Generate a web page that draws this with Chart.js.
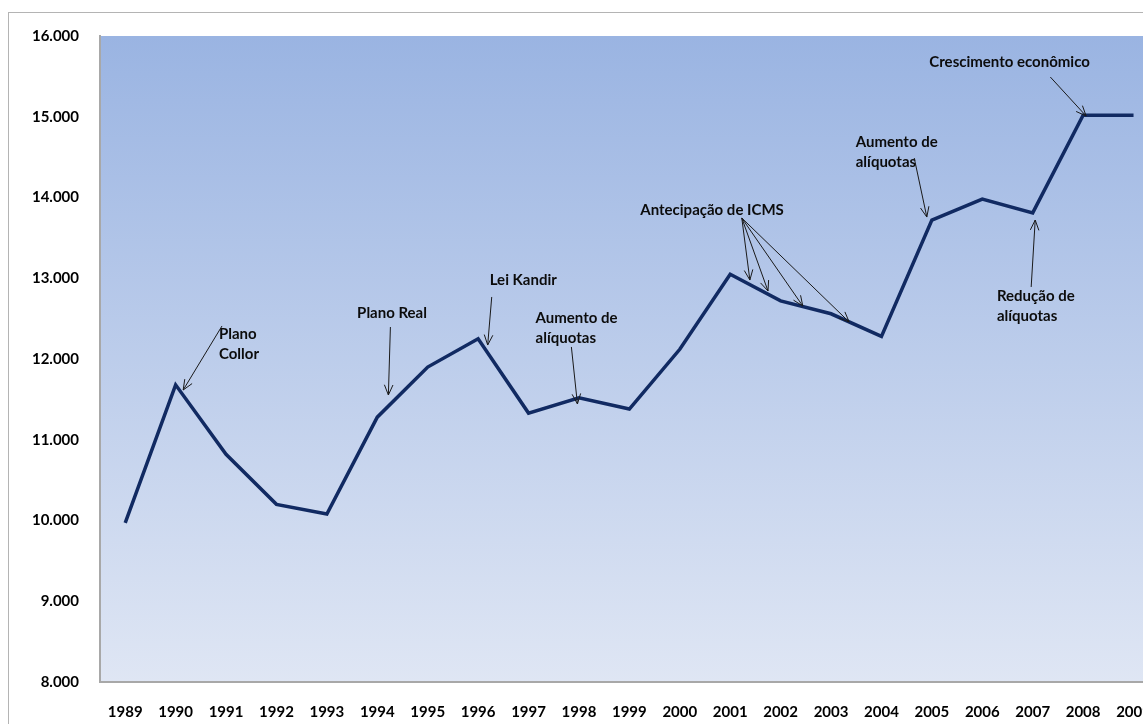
<!DOCTYPE html>
<html>
<head>
<meta charset="utf-8">
<script src="https://cdn.jsdelivr.net/npm/chart.js@4"></script>
<style>
  html, body { margin: 0; padding: 0; background: #fff; overflow: hidden; }
  #wrap { position: absolute; left: 0; top: 0; width: 1172px; height: 724px; }
</style>
</head>
<body>
<div id="wrap"><canvas id="myChart" width="1172" height="724"></canvas></div>
<script>
const years = ['1989', '1990', '1991', '1992', '1993', '1994', '1995', '1996', '1997', '1998', '1999',
               '2000', '2001', '2002', '2003', '2004', '2005', '2006', '2007', '2008', '2009'];
const arrecadacao = [9970, 11680, 10820, 10200, 10080, 11280, 11900, 12250, 11330, 11520, 11380,
                     12120, 13050, 12720, 12560, 12280, 13720, 13980, 13810, 15020, 15020];
const yMin = 8000;
const yMax = 16000;
const yStep = 1000;

// notes: text lines, where the text sits (category index, value), arrow start and arrow tips
const notes = [
    { lines: ['Plano', 'Collor'], at: [1.86, 12310], align: 'left', from: [1.92, 12409], to: [[1.15, 11616]] },
    { lines: ['Plano Real'], at: [4.60, 12570], align: 'left', from: [5.26, 12396], to: [[5.22, 11554]] },
    { lines: ['Lei Kandir'], at: [7.23, 12978], align: 'left', from: [7.27, 12768], to: [[7.19, 12173]] },
    { lines: ['Aumento de', 'alíquotas'], at: [8.14, 12508], align: 'left', from: [8.85, 12149], to: [[8.97, 11443]] },
    { lines: ['Antecipação de ICMS'], at: [11.64, 13845], align: 'center', from: [12.23, 13746],
      to: [[12.39, 12978], [12.75, 12842], [13.44, 12656], [14.36, 12458]] },
    { lines: ['Aumento de', 'alíquotas'], at: [14.49, 14687], align: 'left', from: [15.65, 14489], to: [[15.90, 13758]] },
    { lines: ['Redução de', 'alíquotas'], at: [17.29, 12780], align: 'left', from: [17.97, 12892], to: [[18.05, 13721]] },
    { lines: ['Crescimento econômico'], at: [15.95, 15678], align: 'left', from: [18.35, 15492], to: [[19.06, 15009]] },
];

const fmt = (v) => String(v).replace(/\B(?=(\d{3})+(?!\d))/g, '.');

const frame = {
    id: 'frame',
    beforeDraw(chart) {
        const { ctx, chartArea } = chart;
        ctx.save();
        ctx.strokeStyle = '#b4b4b4';
        ctx.lineWidth = 1;
        ctx.strokeRect(8.5, 12.5, 1300, 800);
        const g = ctx.createLinearGradient(0, chartArea.top, 0, chartArea.bottom);
        g.addColorStop(0, '#9ab4e2');
        g.addColorStop(1, '#dfe6f4');
        ctx.fillStyle = g;
        ctx.fillRect(chartArea.left, chartArea.top, chartArea.right - chartArea.left, chartArea.bottom - chartArea.top);
        ctx.restore();
    }
};

function arrow(ctx, x1, y1, x2, y2) {
    const a = Math.atan2(y2 - y1, x2 - x1);
    const h = 11, s = 0.4;
    ctx.beginPath();
    ctx.moveTo(x1, y1);
    ctx.lineTo(x2, y2);
    ctx.moveTo(x2 - h * Math.cos(a - s), y2 - h * Math.sin(a - s));
    ctx.lineTo(x2, y2);
    ctx.lineTo(x2 - h * Math.cos(a + s), y2 - h * Math.sin(a + s));
    ctx.stroke();
}

const notesPlugin = {
    id: 'notes',
    afterDatasetsDraw(chart) {
        const { ctx } = chart;
        const xs = chart.scales.x, ys = chart.scales.y;
        const px = (p) => [xs.getPixelForValue(p[0]), ys.getPixelForValue(p[1])];
        ctx.save();
        ctx.strokeStyle = '#1a1a1a';
        ctx.lineWidth = 1;
        ctx.fillStyle = '#0c0c0c';
        ctx.font = 'bold 15px Lato';
        ctx.textBaseline = 'middle';
        notes.forEach(n => {
            const [tx, ty] = px(n.at);
            ctx.textAlign = n.align;
            n.lines.forEach((l, i) => ctx.fillText(l, tx, ty + i * 20));
            const [fx, fy] = px(n.from);
            n.to.forEach(t => {
                const [ex, ey] = px(t);
                arrow(ctx, fx, fy, ex, ey);
            });
        });
        ctx.restore();
    }
};

const ctx = document.getElementById('myChart').getContext('2d');
new Chart(ctx, {
    type: 'line',
    data: {
        labels: years,
        datasets: [{
            data: arrecadacao,
            borderColor: '#112a62',
            borderWidth: 3.5,
            borderJoinStyle: 'miter',
            pointRadius: 0,
            tension: 0,
            fill: false,
        }]
    },
    options: {
        responsive: false,
        animation: false,
        layout: { padding: { top: 36, right: 3, left: 0, bottom: 0 } },
        plugins: {
            legend: { display: false },
            tooltip: { enabled: false },
        },
        scales: {
            x: {
                offset: true,
                grid: { display: false, drawTicks: false },
                border: { display: true, color: '#a8a8a8', width: 2 },
                ticks: {
                    color: '#000',
                    font: { family: 'Lato', weight: 'bold', size: 15 },
                    padding: 21,
                    maxRotation: 0,
                    autoSkip: false,
                },
                afterFit(scale) { scale.height = 42; },
            },
            y: {
                min: yMin,
                max: yMax,
                grid: { display: false, drawTicks: false },
                border: { display: true, color: '#a8a8a8', width: 2 },
                ticks: {
                    stepSize: yStep,
                    color: '#000',
                    font: { family: 'Lato', weight: 'bold', size: 15 },
                    padding: 21,
                    callback: (v) => fmt(v),
                },
                afterFit(scale) { scale.width = 100; },
            },
        },
    },
    plugins: [frame, notesPlugin],
});
</script>
</body>
</html>
